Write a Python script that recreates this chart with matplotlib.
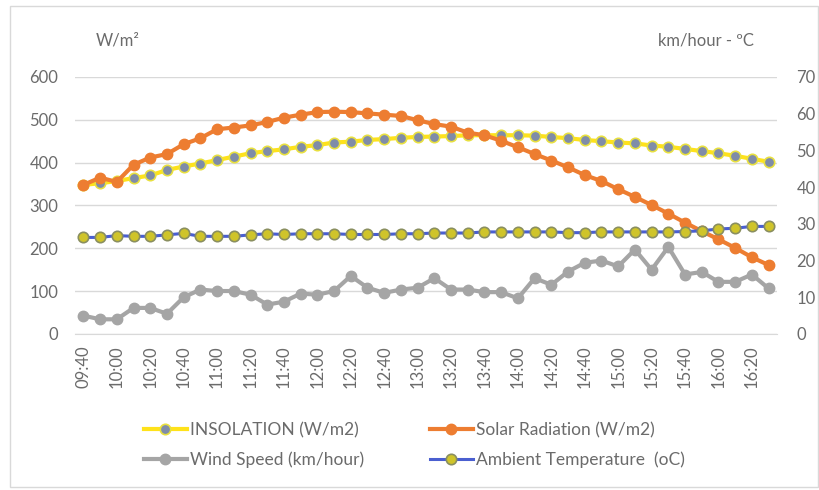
import matplotlib
matplotlib.use("Agg")
import matplotlib.pyplot as plt
from matplotlib.patches import Rectangle

plt.rcParams['font.family'] = ['Lato', 'DejaVu Sans']

times = ['09:40', '09:50', '10:00', '10:10', '10:20', '10:30', '10:40', '10:50',
         '11:00', '11:10', '11:20', '11:30', '11:40', '11:50', '12:00', '12:10',
         '12:20', '12:30', '12:40', '12:50', '13:00', '13:10', '13:20', '13:30',
         '13:40', '13:50', '14:00', '14:10', '14:20', '14:30', '14:40', '14:50',
         '15:00', '15:10', '15:20', '15:30', '15:40', '15:50', '16:00', '16:10',
         '16:20', '16:30']

insolation = [348, 352, 357, 364, 370, 383, 391, 398, 406, 414, 422, 427, 431, 437,
              441, 447, 449, 453, 455, 458, 460, 461, 462, 464, 464, 464, 464, 463,
              460, 457, 453, 450, 447, 445, 440, 437, 432, 427, 422, 416, 409, 402]

solar = [348, 365, 355, 395, 412, 420, 443, 457, 478, 482, 487, 495, 505, 512,
         518, 519, 518, 515, 512, 509, 499, 490, 484, 470, 464, 451, 436, 420,
         405, 389, 371, 357, 338, 320, 301, 281, 260, 240, 221, 201, 179, 161]

wind = [5.0, 4.0, 4.0, 7.1, 7.1, 5.5, 10.0, 12.1, 11.7, 11.7, 10.7, 8.0, 8.8, 11.0,
        10.7, 11.7, 15.8, 12.6, 11.2, 12.1, 12.6, 15.2, 12.1, 12.1, 11.4, 11.4, 9.7,
        15.2, 13.4, 17.0, 19.4, 20.0, 18.4, 23.0, 17.5, 23.7, 16.2, 16.9, 14.2, 14.2,
        16.2, 12.4]

temperature = [26.3, 26.3, 26.8, 26.6, 26.6, 27.0, 27.4, 26.6, 26.6, 26.6, 27.0, 27.3,
               27.1, 27.3, 27.3, 27.3, 27.1, 27.1, 27.1, 27.3, 27.3, 27.5, 27.5, 27.5,
               27.8, 27.8, 27.8, 27.8, 27.8, 27.6, 27.6, 27.8, 27.8, 27.8, 27.8, 27.8,
               27.9, 28.1, 28.6, 28.8, 29.3, 29.3]

x = list(range(len(times)))
grey = '#6b6b6b'

fig = plt.figure(figsize=(8.2, 4.9), dpi=100)
fig.patches.append(Rectangle((0.012, 0.006), 0.985, 0.982, transform=fig.transFigure,
                             fill=False, edgecolor='#d9d9d9', lw=1))
ax = fig.add_axes([0.0915, 0.3184, 0.856, 0.5245])
ax2 = ax.twinx()

l1, = ax.plot(x, insolation, color='#ffe21a', lw=3, marker='o', ms=7.5,
              mfc='#7f8ca8', mec='#e8e040', mew=1.2, label='INSOLATION (W/m2)')
l2, = ax.plot(x, solar, color='#ed7d31', lw=3, marker='o', ms=7.5,
              mfc='#ed7d31', mec='#ed7d31', label='Solar Radiation (W/m2)')
l3, = ax2.plot(x, wind, color='#a5a5a5', lw=3, marker='o', ms=7.5,
               mfc='#a5a5a5', mec='#a5a5a5', label='Wind Speed (km/hour)')
l4, = ax2.plot(x, temperature, color='#4a5fd0', lw=2.2, marker='o', ms=7.5,
               mfc='#cfc42a', mec='#8a8f60', mew=1.2, label='Ambient Temperature  (oC)')

ax.set_xlim(-0.5, len(times) - 0.5)
ax.set_ylim(0, 600)
ax2.set_ylim(0, 70)
ax.set_yticks(range(0, 601, 100))
ax2.set_yticks(range(0, 71, 10))
ax.set_xticks(x[::2])
ax.set_xticklabels(times[::2], rotation=90)

ax.grid(axis='y', color='#d9d9d9', lw=1)
ax.set_axisbelow(True)
for a in (ax, ax2):
    for s in a.spines.values():
        s.set_visible(False)
    a.tick_params(length=0, colors=grey, labelsize=12)
ax.spines['bottom'].set_visible(True)
ax.spines['bottom'].set_color('#d9d9d9')
ax.tick_params(axis='y', pad=12)
ax2.tick_params(axis='y', pad=14)
ax.tick_params(axis='x', pad=8, labelsize=12)

fig.text(0.144, 0.918, 'W/m²', color=grey, fontsize=12, ha='center', va='center')
fig.text(0.861, 0.918, 'km/hour - ºC', color=grey, fontsize=12, ha='center', va='center')

fig.legend(handles=[l1, l3, l2, l4], ncol=2, loc='center', bbox_to_anchor=(0.505, 0.092),
           frameon=False, fontsize=12.5, labelcolor=grey, handlelength=2.5,
           handletextpad=0.15, columnspacing=3.8, labelspacing=0.75)

fig.savefig('out.png', dpi=100)
